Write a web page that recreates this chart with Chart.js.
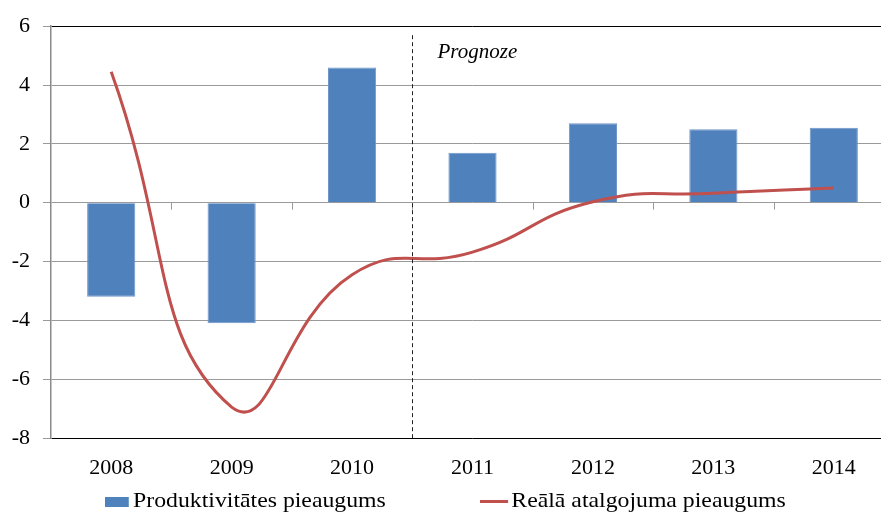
<!DOCTYPE html>
<html>
<head>
<meta charset="utf-8">
<script src="https://cdn.jsdelivr.net/npm/chart.js@4"></script>
<style>
  html, body { margin: 0; padding: 0; background: #fff; overflow: hidden; }
  #wrap { position: relative; width: 881px; height: 513px; overflow: hidden; }
  #chart { position: absolute; left: 0; top: 0; }
  #legend { position: absolute; top: 486px; left: 0; width: 881px; height: 27px;
            font-family: "Liberation Serif", serif; font-size: 22px; color: #000; }
  .item { position: absolute; top: 0; white-space: nowrap; line-height: 27px;
          transform: scaleX(1.08); transform-origin: left center; }
  .swatch { display: inline-block; vertical-align: middle; margin-right: 4px; }
</style>
</head>
<body>
<div id="wrap">
  <canvas id="chart" width="900" height="513"></canvas>
  <div id="legend"></div>
</div>
<script>
// data
var years = ['2008', '2009', '2010', '2011', '2012', '2013', '2014'];
var productivity = [-3.2, -4.1, 4.6, 1.7, 2.7, 2.5, 2.55];
var realWages = [4.45, -6.95, -2.45, -1.68, 0.03, 0.32, 0.5];
var yTicks = [6, 4, 2, 0, -2, -4, -6, -8];
var forecastFrom = 3; // index of first forecast year
var forecastLabel = 'Prognoze';
var seriesNames = ['Produktivitātes pieaugums', 'Reālā atalgojuma pieaugums'];

var blue = '#4F81BD';
var red = '#C0504D';

// tick marks on the zero line + dashed forecast divider
var extras = {
    id: 'extras',
    afterDatasetsDraw: function (chart) {
        var ctx = chart.ctx;
        var x = chart.scales.x, y = chart.scales.y;
        var area = chart.chartArea;
        var y0 = y.getPixelForValue(0);
        ctx.save();
        ctx.strokeStyle = '#9a9a9a';
        ctx.lineWidth = 1;
        for (var i = 1; i < years.length; i++) {
            var bx = Math.round((x.getPixelForValue(i - 1) + x.getPixelForValue(i)) / 2) + 0.5;
            ctx.beginPath();
            ctx.moveTo(bx, y0);
            ctx.lineTo(bx, y0 + 7);
            ctx.stroke();
        }
        var dx = Math.round((x.getPixelForValue(forecastFrom - 1) + x.getPixelForValue(forecastFrom)) / 2) + 0.5;
        ctx.strokeStyle = '#222';
        ctx.setLineDash([4, 3]);
        ctx.beginPath();
        ctx.moveTo(dx, area.top + 9);
        ctx.lineTo(dx, area.bottom);
        ctx.stroke();
        ctx.setLineDash([]);
        ctx.fillStyle = '#000';
        ctx.font = 'italic 21px "Liberation Serif", serif';
        ctx.textBaseline = 'middle';
        ctx.fillText(forecastLabel, dx + 25, area.top + 26);
        ctx.restore();
    }
};

var chart = new Chart(document.getElementById('chart'), {
    type: 'bar',
    data: {
        labels: years,
        datasets: [{
            type: 'line',
            label: seriesNames[1],
            data: realWages,
            borderColor: red,
            backgroundColor: red,
            borderWidth: 3,
            pointRadius: 0,
            tension: 0.5,
            order: 0
        }, {
            label: seriesNames[0],
            data: productivity,
            backgroundColor: blue,
            borderColor: '#6f97c9',
            borderWidth: 1,
            barPercentage: 0.4,
            categoryPercentage: 1,
            order: 1
        }]
    },
    options: {
        responsive: false,
        animation: false,
        layout: { padding: { top: 23, right: 6, left: 0, bottom: 0 } },
        plugins: {
            legend: { display: false },
            tooltip: { enabled: false }
        },
        scales: {
            x: {
                grid: { display: false },
                border: { display: false },
                ticks: {
                    color: '#000',
                    padding: 9,
                    font: { family: '"Liberation Serif", serif', size: 22 }
                },
                afterFit: function (s) { s.height = 75; }
            },
            y: {
                min: -8,
                max: 6,
                afterBuildTicks: function (s) {
                    s.ticks = yTicks.map(function (v) { return { value: v }; });
                },
                grid: {
                    color: function (c) {
                        var v = c.tick && c.tick.value;
                        return (v === 6 || v === -8) ? '#000' : '#9a9a9a';
                    },
                    tickColor: '#9a9a9a',
                    tickLength: 8
                },
                border: { color: '#8a8a8a', width: 1.5 },
                ticks: {
                    color: '#000',
                    padding: 13,
                    font: { family: '"Liberation Serif", serif', size: 22 }
                },
                afterFit: function (s) { s.width = 51; }
            }
        }
    },
    plugins: [extras]
});

// legend
var legend = document.getElementById('legend');
var it1 = document.createElement('div');
it1.className = 'item';
it1.style.left = '105px';
it1.innerHTML = '<span class="swatch" style="width:22px;height:10px;background:' + blue + '"></span>' + seriesNames[0];
var it2 = document.createElement('div');
it2.className = 'item';
it2.style.left = '480px';
it2.innerHTML = '<span class="swatch" style="width:26px;height:3px;background:' + red + ';margin-right:3px"></span>' + seriesNames[1];
legend.appendChild(it1);
legend.appendChild(it2);
</script>
</body>
</html>
